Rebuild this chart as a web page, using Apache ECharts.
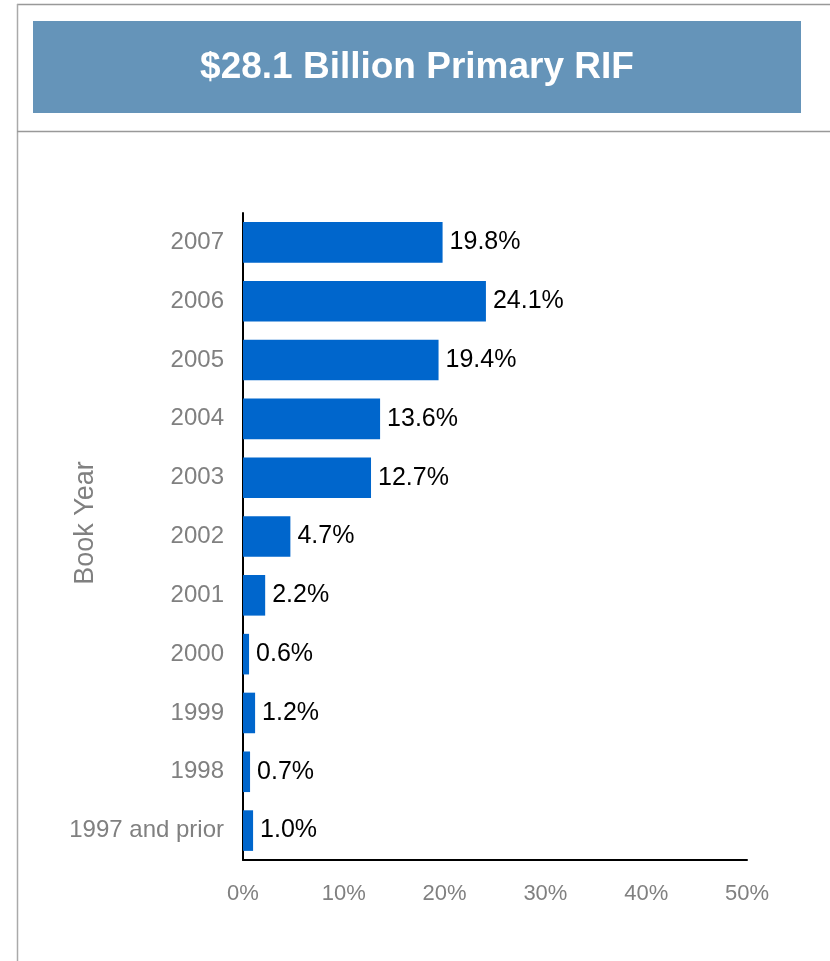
<!DOCTYPE html>
<html><head><meta charset="utf-8">
<script src="https://cdn.jsdelivr.net/npm/echarts@6/dist/echarts.min.js"></script>
<style>html,body{margin:0;padding:0;background:#fff}#c{width:830px;height:961px}</style>
</head><body><div id="c"></div>
<script>
var categories = ["2007","2006","2005","2004","2003","2002","2001","2000","1999","1998","1997 and prior"];
var values = [19.8, 24.1, 19.4, 13.6, 12.7, 4.7, 2.2, 0.6, 1.2, 0.7, 1.0];
var xTicks = [0, 10, 20, 30, 40, 50];
var titleText = "$28.1 Billion Primary RIF";
var axisName = "Book Year";

var chart = echarts.init(document.getElementById('c'), null, {renderer:'canvas'});
var font = "'Liberation Sans', Arial, sans-serif";
chart.setOption({
  animation: false,
  textStyle: {fontFamily: font},
  graphic: [
    {type:'line', shape:{x1:17,y1:4.5,x2:830,y2:4.5}, style:{stroke:'#999',lineWidth:1.5}},
    {type:'line', shape:{x1:17.5,y1:4,x2:17.5,y2:961}, style:{stroke:'#aaa',lineWidth:1.5}},
    {type:'line', shape:{x1:17,y1:131.5,x2:830,y2:131.5}, style:{stroke:'#999',lineWidth:1.5}},
    {type:'rect', shape:{x:33,y:21,width:768,height:92}, style:{fill:'#6594B9'}},
    {type:'text', x:417, y:68, style:{text:titleText, fill:'#fff', font:"bold 37px 'Liberation Sans', Arial, sans-serif", textAlign:'center', textVerticalAlign:'middle'}},
    {type:'text', x:86, y:523, rotation:Math.PI/2, style:{text:axisName, fill:'#808080', font:"27px 'Liberation Sans', Arial, sans-serif", textAlign:'center', textVerticalAlign:'middle'}}
  ],
  grid: {left:243, right:83, top:213, bottom:101, containLabel:false},
  xAxis: {
    type:'value', min:xTicks[0], max:xTicks[xTicks.length-1], interval:10,
    axisLine:{show:true, lineStyle:{color:'#000', width:2}},
    axisTick:{show:false}, splitLine:{show:false},
    axisLabel:{color:'#808080', fontSize:22, margin:23, formatter:function(v){return v+'%';}}
  },
  yAxis: {
    type:'category', data:categories, inverse:true,
    axisLine:{show:true, lineStyle:{color:'#000', width:2}},
    axisTick:{show:false},
    axisLabel:{color:'#808080', fontSize:24, margin:19}
  },
  series: [{
    type:'bar', data:values, barCategoryGap:'31%',
    itemStyle:{color:'#0066CC'},
    label:{show:true, position:'right', distance:7, color:'#000', fontSize:25,
      formatter:function(p){return p.value.toFixed(1)+'%';}}
  }]
});
</script></body></html>
